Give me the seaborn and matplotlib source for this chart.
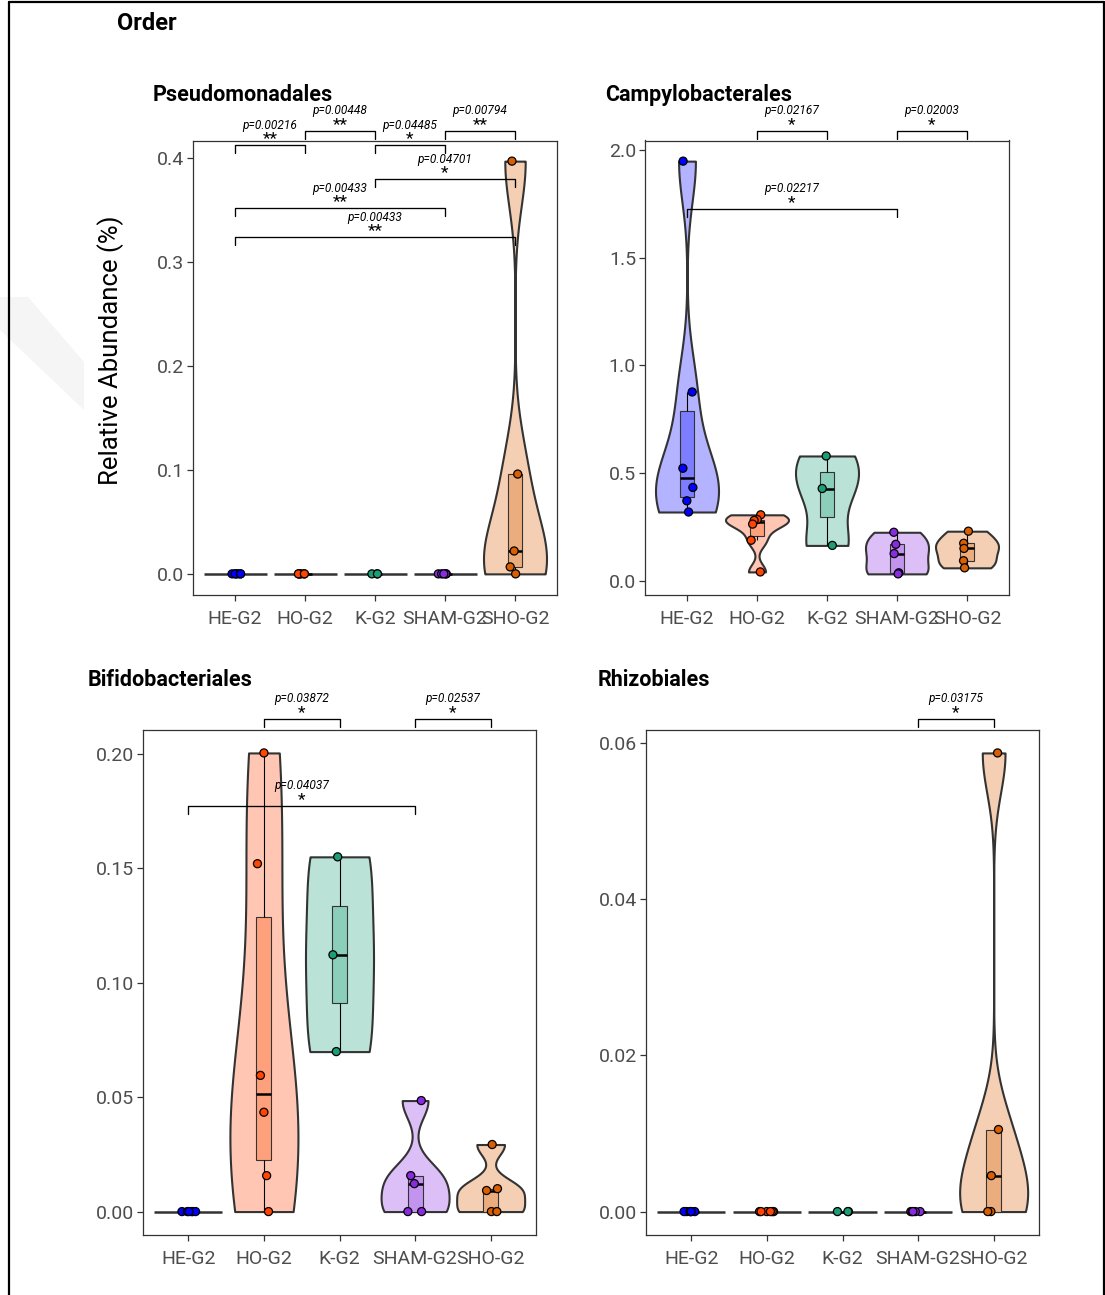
import numpy as np
import pandas as pd
import matplotlib
matplotlib.use("Agg")
import matplotlib.pyplot as plt
import matplotlib.transforms as mtransforms
from matplotlib.lines import Line2D
from matplotlib.patches import Polygon
import seaborn as sns

# ---- groups and colours -------------------------------------------------
groups = ["HE-G2", "HO-G2", "K-G2", "SHAM-G2", "SHO-G2"]
group_colors = ["#0000FF", "#FF4500", "#1B9E77", "#8A2BE2", "#D95F02"]

# ---- relative abundance (%) per order and group -------------------------
pseudo_he = [0.0, 0.0, 0.0, 0.0, 0.0, 0.0]
pseudo_ho = [0.0, 0.0, 0.0, 0.0, 0.0, 0.0]
pseudo_k = [0.0, 0.0, 0.0]
pseudo_sham = [0.0, 0.0, 0.0, 0.0, 0.0]
pseudo_sho = [0.397, 0.096, 0.022, 0.0067, 0.0]

campy_he = [1.948, 0.877, 0.523, 0.434, 0.372, 0.320]
campy_ho = [0.307, 0.285, 0.281, 0.264, 0.189, 0.042]
campy_k = [0.580, 0.429, 0.165]
campy_sham = [0.226, 0.170, 0.127, 0.038, 0.033]
campy_sho = [0.231, 0.175, 0.151, 0.094, 0.061]

bifido_he = [0.0, 0.0, 0.0, 0.0, 0.0, 0.0]
bifido_ho = [0.2004, 0.152, 0.0595, 0.0434, 0.0157, 0.0]
bifido_k = [0.155, 0.1122, 0.0699]
bifido_sham = [0.0485, 0.0157, 0.0122, 0.0, 0.0]
bifido_sho = [0.0293, 0.0100, 0.0092, 0.0, 0.0]

rhizo_he = [0.0, 0.0, 0.0, 0.0, 0.0, 0.0]
rhizo_ho = [0.0, 0.0, 0.0, 0.0, 0.0, 0.0]
rhizo_k = [0.0, 0.0, 0.0]
rhizo_sham = [0.0, 0.0, 0.0, 0.0, 0.0]
rhizo_sho = [0.0587, 0.0105, 0.0046, 0.0, 0.0]

# ---- y ticks --------------------------------------------------------------
pseudo_ticks = [0.0, 0.1, 0.2, 0.3, 0.4]
pseudo_ticklabels = ["0.0", "0.1", "0.2", "0.3", "0.4"]
campy_ticks = [0.0, 0.5, 1.0, 1.5, 2.0]
campy_ticklabels = ["0.0", "0.5", "1.0", "1.5", "2.0"]
bifido_ticks = [0.0, 0.05, 0.10, 0.15, 0.20]
bifido_ticklabels = ["0.00", "0.05", "0.10", "0.15", "0.20"]
rhizo_ticks = [0.0, 0.02, 0.04, 0.06]
rhizo_ticklabels = ["0.00", "0.02", "0.04", "0.06"]

# ---- pairwise tests: (group a, group b, bracket height, p label, stars) ----
pseudo_tests = [
    (0, 1, 0.4125, "p=0.00216", "**"),
    (1, 2, 0.4260, "p=0.00448", "**"),
    (2, 3, 0.4125, "p=0.04485", "*"),
    (3, 4, 0.4260, "p=0.00794", "**"),
    (2, 4, 0.3798, "p=0.04701", "*"),
    (0, 3, 0.3519, "p=0.00433", "**"),
    (0, 4, 0.3240, "p=0.00433", "**"),
]
campy_tests = [
    (1, 2, 2.090, "p=0.02167", "*"),
    (3, 4, 2.090, "p=0.02003", "*"),
    (0, 3, 1.726, "p=0.02217", "*"),
]
bifido_tests = [
    (1, 2, 0.2153, "p=0.03872", "*"),
    (3, 4, 0.2153, "p=0.02537", "*"),
    (0, 3, 0.1773, "p=0.04037", "*"),
]
rhizo_tests = [
    (3, 4, 0.0631, "p=0.03175", "*"),
]

# ---- style ------------------------------------------------------------------
sns.set_theme(style="white")
plt.rcParams["font.family"] = ["Roboto", "DejaVu Sans"]

W, H = 1105, 1295
fig = plt.figure(figsize=(W / 100, H / 100), dpi=100)

EDGE = "#333333"


def blend(c, a):
    r, g, b = matplotlib.colors.to_rgb(c)
    return (1 - a + a * r, 1 - a + a * g, 1 - a + a * b)


violin_pal = {g: blend(c, 0.30) for g, c in zip(groups, group_colors)}
box_pal = {g: blend(c, 0.51) for g, c in zip(groups, group_colors)}
point_pal = dict(zip(groups, group_colors))


def nrd0(kde):
    """Silverman's rule of thumb (R's bw.nrd0) expressed as a scipy factor."""
    x = np.asarray(kde.dataset).ravel()
    n = x.size
    sd = np.std(x, ddof=1)
    q1, q3 = np.percentile(x, [25, 75])
    lo = min(sd, (q3 - q1) / 1.34)
    if lo == 0:
        lo = sd
    return 0.9 * lo / sd * n ** (-0.2)


def px_rect(left, right, top, bottom):
    return [left / W, 1 - bottom / H, (right - left) / W, (bottom - top) / H]


def panel(rect, title, title_xy, series, ticks, ticklabels, tests, seed):
    ax = fig.add_axes(rect)
    df = pd.DataFrame({
        "group": np.concatenate([[g] * len(v) for g, v in zip(groups, series)]),
        "value": np.concatenate([np.asarray(v, float) for v in series]),
    })
    varying = df.groupby("group")["value"].transform("nunique") > 1
    sns.violinplot(data=df[varying], x="group", y="value", hue="group",
                   order=groups, hue_order=groups, palette=violin_pal,
                   saturation=1, density_norm="width", cut=0, width=0.9,
                   gridsize=512, bw_method=nrd0, inner=None, linewidth=1.5,
                   linecolor=EDGE, legend=False, ax=ax)
    # groups without spread collapse to a flat violin
    for i, (g, v) in enumerate(zip(groups, series)):
        if len(set(v)) == 1:
            ax.hlines(v[0], i - 0.45, i + 0.45, color=EDGE, lw=1.8, zorder=1.5)
    sns.boxplot(data=df, x="group", y="value", hue="group", order=groups,
                hue_order=groups, palette=box_pal, saturation=1, width=0.2,
                showfliers=False, showcaps=False, linewidth=0.8,
                linecolor=EDGE, whis=1.5,
                medianprops=dict(color="black", linewidth=1.8),
                whiskerprops=dict(color="black", linewidth=0.8),
                legend=False, ax=ax)
    np.random.seed(seed)
    sns.stripplot(data=df, x="group", y="value", hue="group", order=groups,
                  hue_order=groups, palette=point_pal, jitter=0.1, size=5.8,
                  linewidth=0.9, edgecolor="black", legend=False, ax=ax,
                  zorder=5)

    vmin, vmax = df["value"].min(), df["value"].max()
    pad = 0.05 * (vmax - vmin)
    ax.set_ylim(vmin - pad, vmax + pad)
    ax.set_xlim(-0.6, 4.6)
    ax.set_yticks(ticks, ticklabels)
    ax.set_xlabel("")
    ax.set_ylabel("")
    for sp in ax.spines.values():
        sp.set_visible(True)
        sp.set_color(EDGE)
        sp.set_linewidth(0.9)
    ax.tick_params(axis="both", which="major", length=4, width=0.9,
                   color=EDGE, labelcolor="#4D4D4D", labelsize=14,
                   left=True, bottom=True)
    ax.tick_params(axis="x", pad=7.5)
    ax.tick_params(axis="y", pad=2.5)

    # significance brackets
    ylo, yhi = ax.get_ylim()
    h_px = rect[3] * H
    tick = 8 * (yhi - ylo) / h_px
    p_tr = mtransforms.offset_copy(ax.transData, fig=fig, y=20, units="dots")
    s_tr = mtransforms.offset_copy(ax.transData, fig=fig, y=6, units="dots")
    for a, b, y, plab, stars in tests:
        ax.plot([a, a, b, b], [y - tick, y, y, y - tick], color="black",
                lw=0.95, clip_on=False, zorder=6)
        xm = (a + b) / 2
        ax.text(xm, y, plab, transform=p_tr, ha="center", va="center",
                fontsize=8.6, style="italic", color="black", clip_on=False,
                zorder=7)
        ax.text(xm, y, stars, transform=s_tr, ha="center", va="center",
                fontsize=12.5, color="black", clip_on=False, zorder=7)

    fig.text(title_xy[0] / W, 1 - title_xy[1] / H, title, fontsize=15.5,
             fontweight="bold", ha="left", va="baseline", color="black")
    return ax


# faint grey band in the left margin
fig.add_artist(Polygon([(0 / W, 1 - 297 / H), (28 / W, 1 - 297 / H),
                        (84 / W, 1 - 362 / H), (84 / W, 1 - 410 / H),
                        (0 / W, 1 - 330 / H)], closed=True,
                       transform=fig.transFigure, facecolor="#F5F5F5",
                       edgecolor="none", zorder=0))

panel(px_rect(193, 557, 140.5, 594.5), "Pseudomonadales", (153, 101),
      [pseudo_he, pseudo_ho, pseudo_k, pseudo_sham, pseudo_sho],
      pseudo_ticks, pseudo_ticklabels, pseudo_tests, 3)
panel(px_rect(645, 1009, 140.5, 594.5), "Campylobacterales", (605, 101),
      [campy_he, campy_ho, campy_k, campy_sham, campy_sho],
      campy_ticks, campy_ticklabels, campy_tests, 5)
panel(px_rect(143, 536, 730, 1234.5), "Bifidobacteriales", (88, 686),
      [bifido_he, bifido_ho, bifido_k, bifido_sham, bifido_sho],
      bifido_ticks, bifido_ticklabels, bifido_tests, 7)
panel(px_rect(646, 1039, 730, 1234.5), "Rhizobiales", (598, 686),
      [rhizo_he, rhizo_ho, rhizo_k, rhizo_sham, rhizo_sho],
      rhizo_ticks, rhizo_ticklabels, rhizo_tests, 11)

fig.text(111 / W, 1 - 350 / H, "Relative Abundance (%)", rotation=90,
         ha="center", va="center", fontsize=18.5, color="black")
fig.text(117 / W, 1 - 30 / H, "Order", fontsize=17, fontweight="bold",
         ha="left", va="baseline", color="black")

# outer frame
for xs, ys in [((8.5, 8.5), (0, H - 2)), ((8.5, 1104), (H - 2, H - 2)),
               ((1104, 1104), (0, H - 2))]:
    fig.add_artist(Line2D([x / W for x in xs], [y / H for y in ys],
                          color="black", lw=1.6, transform=fig.transFigure))

fig.savefig("out.png", dpi=100)
